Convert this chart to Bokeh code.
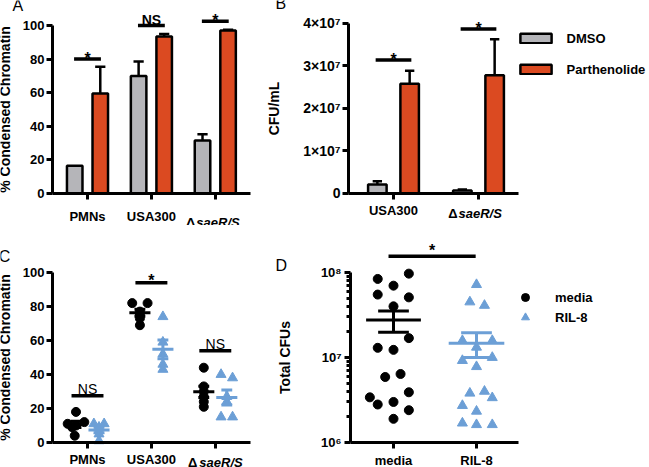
import numpy as np
from bokeh.plotting import figure
from bokeh.layouts import column, row
from bokeh.models import Range1d, FixedTicker, Label, Legend, LegendItem
from bokeh.embed import file_html
from bokeh.resources import INLINE
from bokeh.core.properties import value

FONT = "Liberation Sans"
GRAY = "#B5B5B9"
ORANGE = "#DB4A21"
BLUE = "#6C9FD6"
BLACK = "#000000"

# ---------------- data ----------------
# Panel A: % condensed chromatin (bars, mean + SD up)
A_GROUPS = ["PMNs", "USA300", "ΔsaeR/S"]
A_DMSO = [16.5, 70.0, 31.5]
A_DMSO_ERR = [0.0, 8.5, 3.8]
A_PARTH = [59.5, 93.5, 97.0]
A_PARTH_ERR = [16.0, 1.5, 0.5]
A_SIG = ["*", "NS", "*"]
A_SIG_Y = [80.0, 100.0, 102.5]

# Panel B: CFU/mL
B_GROUPS = ["USA300", "ΔsaeR/S"]
B_DMSO = [2.1e6, 0.7e6]
B_DMSO_ERR = [0.8e6, 0.25e6]
B_PARTH = [2.58e7, 2.78e7]
B_PARTH_ERR = [0.31e7, 0.85e7]
B_SIG = ["*", "*"]
B_SIG_Y = [3.14e7, 3.87e7]
B_YTICKS = [0, 1e7, 2e7, 3e7, 4e7]
B_YTICK_LABELS = ["0", "1×10⁷", "2×10⁷", "3×10⁷", "4×10⁷"]
B_SERIES = ["DMSO", "Parthenolide"]

# Panel C: % condensed chromatin, individual donors
C_GROUPS = ["PMNs", "USA300", "ΔsaeR/S"]
C_MEDIA = [[18, 12, 11, 10, 9, 4], [82, 82, 77, 75, 73, 69], [44, 33, 30, 27, 24, 21]]
C_MEDIA_JIT = [[0, 0.13, -0.13, 0, -0.06, -0.02], [-0.12, 0.12, 0, 0, 0, 0], [0, 0, 0, 0, 0, 0]]
C_RIL8 = [[11, 11, 9, 7, 5, 1], [74, 59, 52, 46, 43], [40, 38, 27, 24, 15, 15]]
C_RIL8_JIT = [[-0.08, 0.08, 0, 0, 0, 0], [0, 0, 0, 0, 0], [-0.09, 0.09, 0, 0, -0.09, 0.09]]
C_SIG = ["NS", "*", "NS"]
C_SIG_Y = [27.5, 94.0, 54.0]

# Panel D: total CFUs (log)
D_GROUPS = ["media", "RIL-8"]
D_MEDIA = [8.4e7, 9.7e7, 7.0e7, 5.5e7, 5.1e7, 4.0e7, 1.69e7, 1.30e7, 1.23e7,
           5.9e6, 6.4e6, 3.4e6, 2.8e6, 3.0e6, 3.9e6, 2.4e6, 1.9e6]
D_MEDIA_JIT = [-0.19, 0.185, 0, -0.19, 0.185, 0, 0.185, -0.19, 0, -0.10, 0.085,
               -0.285, -0.19, 0, 0.185, 0.185, 0]
D_RIL8 = [7.2e7, 4.5e7, 4.1e7, 1.58e7, 1.58e7, 1.32e7, 9.2e6, 1.0e7, 7.8e6,
          3.8e6, 4.0e6, 3.36e6, 2.72e6, 2.33e6, 1.69e6, 1.62e6, 1.62e6]
D_RIL8_JIT = [0, -0.08, 0.096, -0.17, 0.19, 0, -0.17, 0.19, 0, -0.08, 0.096,
              0.19, -0.17, 0, -0.17, 0, 0.19]
D_YTICKS = [1e6, 1e7, 1e8]
D_YTICK_LABELS = ["10⁶", "10⁷", "10⁸"]
D_YMINOR = [k * 10 ** e for e in (6, 7) for k in range(2, 10)]
D_SIG = "*"
D_SIG_Y = 1.55e8
D_SIG_X = [0.94, 1.99]


# ---------------- helpers ----------------
def base_fig(w, h, xr, yr, x_axis_at, y_axis_at, x_bounds, y_bounds, y_type="linear"):
    p = figure(width=w, height=h, x_range=Range1d(*xr), y_range=Range1d(*yr),
               y_axis_type=y_type, output_backend="svg", toolbar_location=None,
               min_border=0)
    p.xgrid.visible = False
    p.ygrid.visible = False
    p.outline_line_color = None
    p.background_fill_color = "white"
    p.border_fill_color = "white"
    p.xaxis.fixed_location = x_axis_at
    p.yaxis.fixed_location = y_axis_at
    p.xaxis.bounds = x_bounds
    p.yaxis.bounds = y_bounds
    for ax in p.axis:
        ax.axis_line_width = 3
        ax.axis_line_color = BLACK
        ax.major_tick_line_width = 3
        ax.major_tick_line_color = BLACK
        ax.major_tick_in = 0
        ax.major_tick_out = 6
        ax.minor_tick_line_color = None
        ax.major_label_text_font = FONT
        ax.major_label_text_font_style = "bold"
        ax.major_label_text_font_size = "13px"
        ax.major_label_text_color = BLACK
        ax.axis_label_text_font = FONT
        ax.axis_label_text_font_style = "bold"
        ax.axis_label_text_font_size = "14px"
        ax.axis_label_text_color = BLACK
    return p


def x_cats(p, groups, standoff, blank_last=True):
    ticks = list(range(1, len(groups) + 1))
    p.xaxis.ticker = FixedTicker(ticks=ticks)
    overrides = {t: g for t, g in zip(ticks, groups)}
    if blank_last:
        overrides[ticks[-1]] = ""
    p.xaxis.major_label_overrides = overrides
    p.xaxis.major_label_standoff = standoff


def delta_label(p, x, y, off_d, off_s):
    p.add_layout(Label(x=x, y=y, text="Δ", text_align="right", x_offset=off_d,
                       text_baseline="alphabetic", text_font=FONT,
                       text_font_style="bold", text_font_size="13px", text_color=BLACK))
    p.add_layout(Label(x=x, y=y, text="saeR/S", text_align="left", x_offset=off_s,
                       text_baseline="alphabetic", text_font=FONT,
                       text_font_style="bold italic", text_font_size="13px", text_color=BLACK))


def panel_letter(p, x, y, letter):
    p.add_layout(Label(x=x, y=y, text=letter, text_align="left", text_baseline="alphabetic",
                       text_font=FONT, text_font_size="16px", text_color=BLACK))


def err_up(p, x, top, err, cap_w):
    x = np.asarray(x, float); top = np.asarray(top, float); err = np.asarray(err, float)
    m = err > 0
    y1 = top[m] + err[m]
    p.segment(x0=x[m], y0=top[m], x1=x[m], y1=y1, line_color=BLACK, line_width=2.5)
    p.segment(x0=x[m] - cap_w / 2, y0=y1, x1=x[m] + cap_w / 2, y1=y1,
              line_color=BLACK, line_width=2.5)


def sig_marks(p, x0, x1, y, texts, ns_style, ns_off, star_off):
    p.segment(x0=x0, y0=y, x1=x1, y1=y, line_color=BLACK, line_width=3.5)
    for a, b, yy, t in zip(x0, x1, y, texts):
        if t == "*":
            p.text(x=[(a + b) / 2], y=[yy], text=[t], text_align="center",
                   text_baseline="alphabetic", y_offset=star_off, text_font=value(FONT),
                   text_font_style="bold", text_font_size="16px", text_color=BLACK)
        else:
            p.text(x=[(a + b) / 2], y=[yy], text=[t], text_align="center",
                   text_baseline="alphabetic", y_offset=ns_off, text_font=value(FONT),
                   text_font_style=ns_style, text_font_size="14px", text_color=BLACK)


def mean_sem(vals):
    v = np.asarray(vals, float)
    return v.mean(), v.std(ddof=1) / np.sqrt(len(v))


def mean_bars(p, xc, means, sems, bar_w, cap_w, color):
    xc = np.asarray(xc, float); means = np.asarray(means); sems = np.asarray(sems)
    p.segment(x0=xc, y0=means - sems, x1=xc, y1=means + sems, line_color=color, line_width=3)
    p.segment(x0=xc - cap_w / 2, y0=means + sems, x1=xc + cap_w / 2, y1=means + sems,
              line_color=color, line_width=3)
    p.segment(x0=xc - cap_w / 2, y0=means - sems, x1=xc + cap_w / 2, y1=means - sems,
              line_color=color, line_width=3)
    p.segment(x0=xc - bar_w / 2, y0=means, x1=xc + bar_w / 2, y1=means,
              line_color=color, line_width=3)


def legend_style(leg):
    leg.padding = 0
    leg.margin = 0
    leg.border_line_color = None
    leg.background_fill_alpha = 0
    leg.label_text_font = FONT
    leg.label_text_font_style = "bold"
    leg.label_text_font_size = "13px"
    leg.label_text_color = BLACK


# ---------------- Panel A ----------------
pA = base_fig(260, 225, (-0.3615, 3.7074), (-19.05, 114.88), 0, 0.4523,
              (0.4523, 3.551), (0, 100))
xA = np.arange(1, len(A_GROUPS) + 1, dtype=float)
offA, wA = 0.2, 0.243
err_up(pA, xA - offA, A_DMSO, A_DMSO_ERR, 0.16)
err_up(pA, xA + offA, A_PARTH, A_PARTH_ERR, 0.16)
pA.vbar(x=xA - offA, top=A_DMSO, width=wA, fill_color=GRAY, line_color=BLACK, line_width=2.5)
pA.vbar(x=xA + offA, top=A_PARTH, width=wA, fill_color=ORANGE, line_color=BLACK, line_width=2.5)
sig_marks(pA, xA - 0.21, xA + 0.21, A_SIG_Y, A_SIG, "bold", -5, -1)
pA.yaxis.ticker = FixedTicker(ticks=[0, 20, 40, 60, 80, 100])
pA.yaxis.axis_label = "% Condensed Chromatin"
pA.yaxis.major_label_standoff = 2
pA.yaxis.axis_label_standoff = 7
x_cats(pA, A_GROUPS, 10)
delta_label(pA, xA[-1], -17.3, -20, -19)
panel_letter(pA, -0.174, 112.0, "A")

# ---------------- Panel B ----------------
pB = base_fig(389, 225, (-0.5647, 4.0118), (-0.753e7, 4.541e7), 0, 0.4706,
              (0.4706, 2.4706), (0, 4e7))
xB = np.arange(1, len(B_GROUPS) + 1, dtype=float)
offB, wB = 0.19, 0.218
err_up(pB, xB - offB, B_DMSO, B_DMSO_ERR, 0.11)
err_up(pB, xB + offB, B_PARTH, B_PARTH_ERR, 0.11)
rBd = pB.vbar(x=xB - offB, top=B_DMSO, width=wB, fill_color=GRAY, line_color=BLACK, line_width=2.5)
rBp = pB.vbar(x=xB + offB, top=B_PARTH, width=wB, fill_color=ORANGE, line_color=BLACK, line_width=2.5)
sig_marks(pB, xB - 0.21, xB + 0.21, B_SIG_Y, B_SIG, "bold", -5, -1)
pB.yaxis.ticker = FixedTicker(ticks=B_YTICKS)
pB.yaxis.major_label_overrides = {t: l for t, l in zip(B_YTICKS, B_YTICK_LABELS)}
pB.yaxis.major_label_text_font_size = "14px"
pB.yaxis.axis_label = "CFU/mL"
pB.yaxis.major_label_standoff = 2
pB.yaxis.axis_label_standoff = 18
x_cats(pB, B_GROUPS, 4)
delta_label(pB, xB[-1], -4.7e6, -21, -20)
panel_letter(pB, -0.388, 4.46e7, "B")
legB = Legend(items=[LegendItem(label=B_SERIES[0], renderers=[rBd]),
                     LegendItem(label=B_SERIES[1], renderers=[rBp])],
              location=(255.6, 148.5), orientation="vertical",
              spacing=16, glyph_width=39, glyph_height=12, label_height=12,
              label_standoff=12)
legend_style(legB)
pB.add_layout(legB)

# ---------------- Panel C ----------------
pC = base_fig(260, 242, (-0.3615, 3.7074), (-14.7, 127.65), 0, 0.4523,
              (0.4523, 3.551), (0, 100))
xC = np.arange(1, len(C_GROUPS) + 1, dtype=float)
offC = 0.18
for i, xc in enumerate(xC):
    m, s = mean_sem(C_MEDIA[i])
    pC.scatter(x=xc - offC + np.asarray(C_MEDIA_JIT[i]), y=C_MEDIA[i], marker="circle",
               size=9, fill_color=BLACK, line_color=BLACK)
    mean_bars(pC, [xc - offC], [m], [s], 0.33, 0.17, BLACK)
    m2, s2 = mean_sem(C_RIL8[i])
    pC.scatter(x=xc + offC + np.asarray(C_RIL8_JIT[i]), y=C_RIL8[i], marker="triangle",
               size=10, fill_color=BLUE, line_color=BLUE)
    mean_bars(pC, [xc + offC], [m2], [s2], 0.33, 0.17, BLUE)
sig_marks(pC, xC - 0.25, xC + 0.25, C_SIG_Y, C_SIG, "normal", -7, -2)
pC.yaxis.ticker = FixedTicker(ticks=[0, 20, 40, 60, 80, 100])
pC.yaxis.axis_label = "% Condensed Chromatin"
pC.yaxis.major_label_standoff = 2
pC.yaxis.axis_label_standoff = 7
x_cats(pC, C_GROUPS, 3)
delta_label(pC, xC[-1], -11.8, -18, -16)
panel_letter(pC, -0.39, 109.4, "C")

# ---------------- Panel D ----------------
pD = base_fig(389, 242, (-0.6024, 4.0843), (10 ** 5.706, 10 ** 8.553), 1e6, 0.4819,
              (0.4819, 2.506), (1e6, 1e8), y_type="log")
xD = np.arange(1, len(D_GROUPS) + 1, dtype=float)
rDm = pD.scatter(x=xD[0] + np.asarray(D_MEDIA_JIT), y=D_MEDIA, marker="circle", size=9,
                 fill_color=BLACK, line_color=BLACK)
rDr = pD.scatter(x=xD[1] + np.asarray(D_RIL8_JIT), y=D_RIL8, marker="triangle", size=10,
                 fill_color=BLUE, line_color=BLUE)
mD, sD = mean_sem(D_MEDIA)
mean_bars(pD, [xD[0]], [mD], [sD], 0.66, 0.37, BLACK)
mR, sR = mean_sem(D_RIL8)
mean_bars(pD, [xD[1]], [mR], [sR], 0.67, 0.37, BLUE)
sig_marks(pD, [D_SIG_X[0]], [D_SIG_X[1]], [D_SIG_Y], [D_SIG], "bold", -7, -6)
pD.yaxis.ticker = FixedTicker(ticks=D_YTICKS, minor_ticks=D_YMINOR)
pD.yaxis.major_label_overrides = {t: l for t, l in zip(D_YTICKS, D_YTICK_LABELS)}
pD.yaxis.major_label_text_font_size = "13px"
pD.yaxis.minor_tick_line_color = BLACK
pD.yaxis.minor_tick_line_width = 3
pD.yaxis.minor_tick_in = 0
pD.yaxis.minor_tick_out = 4
pD.yaxis.axis_label = "Total CFUs"
pD.yaxis.major_label_standoff = 3
pD.yaxis.axis_label_standoff = 25
x_cats(pD, D_GROUPS, 4, blank_last=False)
panel_letter(pD, -0.422, 10 ** 8.085, "D")
legD = Legend(items=[LegendItem(label=D_GROUPS[0], renderers=[rDm]),
                     LegendItem(label=D_GROUPS[1], renderers=[rDr])],
              location=(254, 140), orientation="vertical",
              spacing=0, glyph_width=22, glyph_height=20, label_height=20,
              label_standoff=19)
legend_style(legD)
pD.add_layout(legD)

layout = column(row(pA, pB), row(pC, pD))

with open("out.html", "w") as f:
    f.write(file_html(layout, INLINE))
